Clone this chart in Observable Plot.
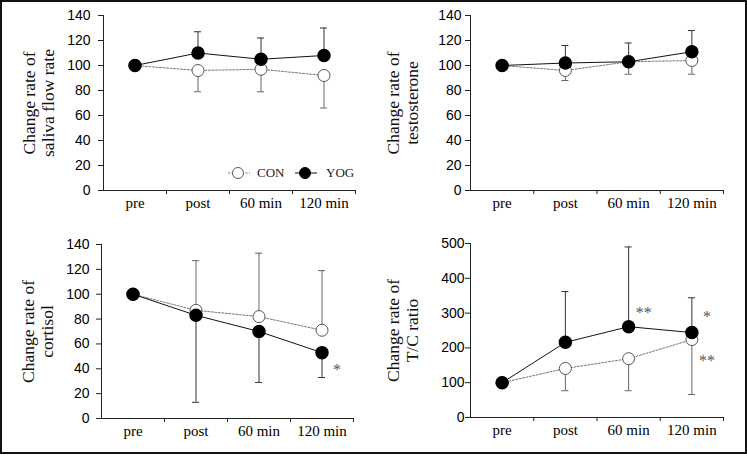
<!DOCTYPE html>
<html>
<head>
<meta charset="utf-8">
<script src="https://cdn.jsdelivr.net/npm/d3@7"></script>
<script src="https://cdn.jsdelivr.net/npm/@observablehq/plot@0.6"></script>
<style>
  html, body { margin: 0; padding: 0; background: #fff; }
  #fig { position: relative; width: 747px; height: 456px; overflow: hidden; }
  #frame { position: absolute; left: 0; top: 0; width: 743px; height: 450px; border: 2px solid #111; }
  .panel { position: absolute; }
  .panel svg { overflow: visible; }
  #legend { position: absolute; left: 226px; top: 164px; font-family: "Liberation Serif", "Times New Roman", serif; font-size: 13px; color: #222; }
  #legend .item { position: absolute; top: 0; white-space: nowrap; }
  #legend svg { position: absolute; top: 0; }
  #legend span { position: absolute; top: 1px; }
</style>
</head>
<body>
<div id="fig">
  <div id="frame"></div>
  <div id="p1" class="panel" style="left:0px;top:0px"></div>
  <div id="p2" class="panel" style="left:374px;top:0px"></div>
  <div id="p3" class="panel" style="left:0px;top:228px"></div>
  <div id="p4" class="panel" style="left:374px;top:228px"></div>
  <div id="legend"></div>
</div>
<script>
// ---- data ----
const cats = ["pre", "post", "60 min", "120 min"];
const groups = ["CON", "YOG"];

const salivaCON = [100, 96, 97, 92];
const salivaYOG = [100, 110, 105, 108];
const salivaCONerr = [null, 79, 79, 66];     // lower bar end
const salivaYOGerr = [null, 127, 122, 130];  // upper bar end

const testoCON = [100, 96, 103, 104];
const testoYOG = [100, 102, 103, 111];
const testoCONerr = [null, 88, 93, 93];
const testoYOGerr = [null, 116, 118, 128];

const cortCON = [100, 87, 82, 71];
const cortYOG = [100, 83, 70, 53];
const cortCONerr = [null, 127, 133, 119];
const cortYOGerr = [null, 13, 29, 33];

const tcCON = [100, 141, 169, 224];
const tcYOG = [100, 216, 261, 244];
const tcCONerr = [null, 77, 77, 66];
const tcYOGerr = [null, 362, 490, 344];

const ticks140 = [0, 20, 40, 60, 80, 100, 120, 140];
const ticks500 = [0, 100, 200, 300, 400, 500];

const cortNotes = [{cat: "120 min", y: 42, label: "*"}];
const tcNotes = [
  {cat: "60 min", y: 313, label: "**"},
  {cat: "120 min", y: 300, label: "*"},
  {cat: "120 min", y: 173, label: "**"}
];

const serif = "'Liberation Serif', 'Times New Roman', serif";
const sans = "'Liberation Sans', Arial, sans-serif";

function panel(o) {
  const rows = cats.map((c, i) => ({
    i: i + 0.5, cat: c,
    con: o.con[i], yog: o.yog[i],
    conErr: o.conErr[i], yogErr: o.yogErr[i]
  }));
  const errRows = rows.filter(r => r.conErr != null);
  const notes = (o.notes || []).map(n => ({...n, i: cats.indexOf(n.cat) + 0.5}));
  const boundaries = cats.map((c, i) => i + 1);
  const centers = cats.map((c, i) => i + 0.5);
  return Plot.plot({
    width: o.w, height: 228,
    marginLeft: o.ml, marginRight: o.mr, marginTop: o.mt, marginBottom: o.mb,
    x: {domain: [0, cats.length], axis: null, label: null},
    y: {domain: [0, o.yMax], axis: null, label: null},
    style: {background: "transparent", color: "#000", fontFamily: sans, overflow: "visible"},
    marks: [
      Plot.axisY({ticks: o.yTicks, tickSize: 5, tickPadding: o.tp, fontSize: 14, fontFamily: sans, stroke: "#222", label: null}),
      Plot.axisX({ticks: boundaries, tickSize: 4, tickFormat: () => "", stroke: "#222", label: null}),
      Plot.axisX({ticks: centers, tickSize: 0, tickPadding: 7, tickFormat: d => cats[Math.floor(d)], fontSize: 15, fontFamily: serif, label: null}),
      Plot.ruleX([0], {stroke: "#222"}),
      Plot.ruleY([0], {stroke: "#222"}),
      Plot.text([o.label], {text: d => d, frameAnchor: "left", textAnchor: "middle", lineAnchor: "middle", rotate: -90, dx: o.ldx, fontSize: 17.5, fontFamily: serif, lineHeight: 1.09, fill: "#111"}),
      Plot.line(rows, {x: "i", y: "con", stroke: "#777", strokeWidth: 1, strokeDasharray: "2,1.5"}),
      Plot.line(rows, {x: "i", y: "yog", stroke: "#111", strokeWidth: 1}),
      Plot.ruleX(errRows, {x: "i", y1: "con", y2: "conErr", stroke: "#666"}),
      Plot.ruleY(errRows, {y: "conErr", x1: "i", x2: "i", insetLeft: -3.5, insetRight: -3.5, stroke: "#666"}),
      Plot.ruleX(errRows, {x: "i", y1: "yog", y2: "yogErr", stroke: "#333"}),
      Plot.ruleY(errRows, {y: "yogErr", x1: "i", x2: "i", insetLeft: -3.5, insetRight: -3.5, stroke: "#333"}),
      Plot.dot(rows, {x: "i", y: "con", r: 6, fill: "white", stroke: "#555", strokeWidth: 1}),
      Plot.dot(rows, {x: "i", y: "yog", r: 6, fill: "#000", stroke: "#000"}),
      Plot.text(notes, {x: "i", y: "y", text: "label", dx: 15, dy: 4, fontSize: 16, fontFamily: serif, fill: "#555"})
    ]
  });
}

document.getElementById("p1").append(panel({
  con: salivaCON, yog: salivaYOG, conErr: salivaCONerr, yogErr: salivaYOGerr,
  yMax: 140, yTicks: ticks140, label: "Change rate of\nsaliva flow rate",
  w: 374, ml: 103, mr: 19, mt: 15, mb: 38, tp: 8, ldx: -65.5
}));
document.getElementById("p2").append(panel({
  con: testoCON, yog: testoYOG, conErr: testoCONerr, yogErr: testoYOGerr,
  yMax: 140, yTicks: ticks140, label: "Change rate of\ntestosterone",
  w: 373, ml: 96, mr: 24, mt: 15, mb: 38, tp: 4, ldx: -68.5
}));
document.getElementById("p3").append(panel({
  con: cortCON, yog: cortYOG, conErr: cortCONerr, yogErr: cortYOGerr,
  yMax: 140, yTicks: ticks140, label: "Change rate of\ncortisol", notes: cortNotes,
  w: 374, ml: 101, mr: 21, mt: 16, mb: 38, tp: 7, ldx: -64
}));
document.getElementById("p4").append(panel({
  con: tcCON, yog: tcYOG, conErr: tcCONerr, yogErr: tcYOGerr,
  yMax: 500, yTicks: ticks500, label: "Change rate of\nT/C ratio", notes: tcNotes,
  w: 373, ml: 96, mr: 24, mt: 15, mb: 39, tp: 1, ldx: -68.5
}));

// legend
const legend = document.getElementById("legend");
const legendItems = [
  {name: groups[0], x: 0, textX: 31, fill: "white", stroke: "#555", line: "#777", dash: "2,1.5"},
  {name: groups[1], x: 67, textX: 100, fill: "#000", stroke: "#000", line: "#111", dash: null}
];
legendItems.forEach(it => {
  const item = document.createElement("div");
  item.className = "item";
  item.style.left = it.x + "px";
  item.innerHTML =
    `<svg width="26" height="18" style="left:0"><line x1="2" x2="24" y1="9" y2="9" stroke="${it.line}" ${it.dash ? `stroke-dasharray="${it.dash}"` : ""}/>` +
    `<circle cx="12" cy="9" r="5.5" fill="${it.fill}" stroke="${it.stroke}"/></svg>` +
    `<span style="left:${it.textX - it.x}px">${it.name}</span>`;
  legend.append(item);
});
</script>
</body>
</html>
